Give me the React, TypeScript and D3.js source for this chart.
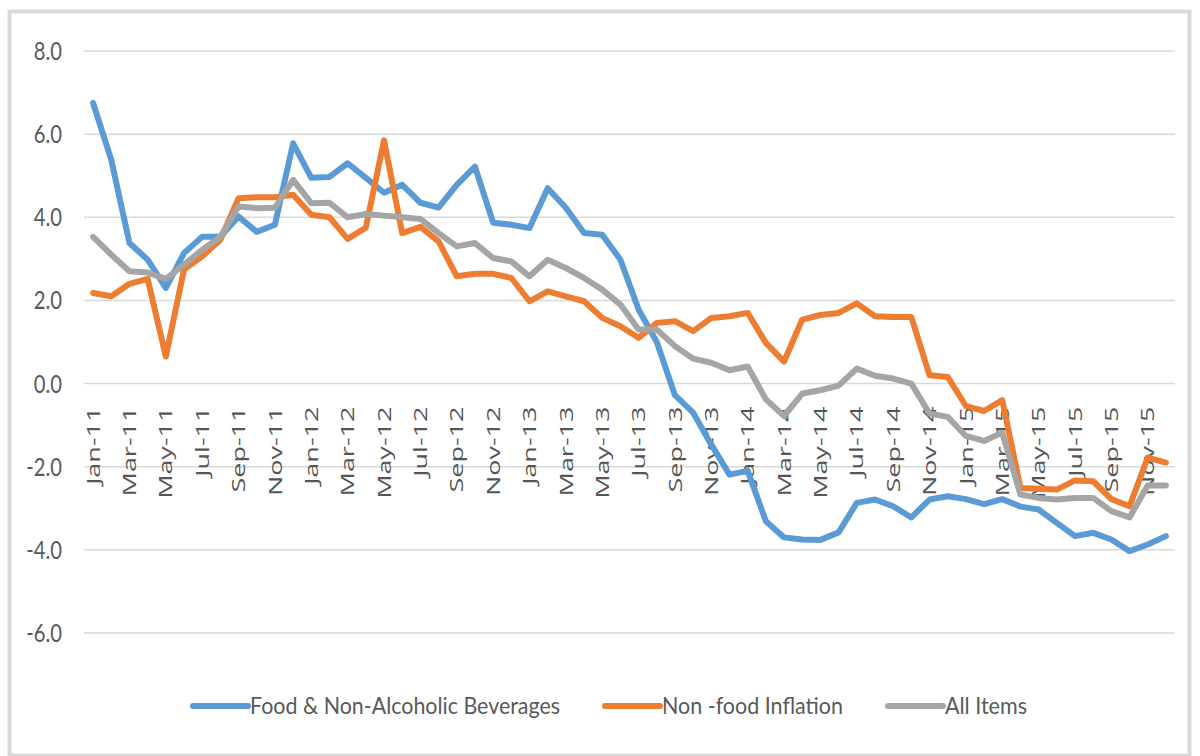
import React from "react";
import * as d3 from "d3";

// categories
const monthNames = ["Jan", "Feb", "Mar", "Apr", "May", "Jun", "Jul", "Aug", "Sep", "Oct", "Nov", "Dec"];
const years = ["11", "12", "13", "14", "15"];
const months = years.flatMap((yr) => monthNames.map((m) => `${m}-${yr}`));

// series values
const food = [
    6.75, 5.38, 3.38, 2.98, 2.3, 3.14, 3.53, 3.53, 4.02, 3.65, 3.82, 5.78,
    4.95, 4.97, 5.3, 4.95, 4.59, 4.78, 4.35, 4.23, 4.78, 5.22, 3.87, 3.82,
    3.74, 4.7, 4.23, 3.62, 3.58, 2.98, 1.78, 1.0, -0.28, -0.7, -1.47, -2.19,
    -2.1, -3.31, -3.7, -3.75, -3.76, -3.58, -2.87, -2.79, -2.95, -3.22, -2.79, -2.71,
    -2.78, -2.9, -2.78, -2.96, -3.03, -3.35, -3.67, -3.59, -3.75, -4.03, -3.87, -3.67,
];
const nonFood = [
    2.18, 2.1, 2.4, 2.52, 0.65, 2.74, 3.06, 3.46, 4.46, 4.48, 4.48, 4.54,
    4.06, 4.0, 3.48, 3.75, 5.85, 3.62, 3.77, 3.42, 2.58, 2.64, 2.64, 2.54,
    1.98, 2.22, 2.1, 1.98, 1.58, 1.38, 1.1, 1.46, 1.5, 1.26, 1.58, 1.62,
    1.7, 0.98, 0.53, 1.54, 1.65, 1.7, 1.93, 1.62, 1.6, 1.6, 0.2, 0.16,
    -0.54, -0.66, -0.4, -2.51, -2.53, -2.55, -2.33, -2.35, -2.78, -2.95, -1.78, -1.9,
];
const allItems = [
    3.53, 3.1, 2.7, 2.67, 2.52, 2.86, 3.22, 3.53, 4.26, 4.22, 4.23, 4.9,
    4.34, 4.35, 4.0, 4.08, 4.04, 4.0, 3.96, 3.62, 3.3, 3.38, 3.02, 2.94,
    2.58, 2.98, 2.78, 2.54, 2.26, 1.9, 1.3, 1.3, 0.9, 0.6, 0.5, 0.32,
    0.41, -0.38, -0.78, -0.24, -0.16, -0.05, 0.36, 0.19, 0.12, 0.0, -0.72, -0.8,
    -1.26, -1.38, -1.18, -2.67, -2.75, -2.79, -2.75, -2.75, -3.07, -3.22, -2.45, -2.45,
];

// tick labels
const yTicks = [-6, -4, -2, 0, 2, 4, 6, 8];

const seriesNames = ["Food & Non-Alcoholic Beverages", "Non -food Inflation", "All Items"];
const seriesColors = ["#5B9BD5", "#ED7D31", "#A5A5A5"];
const seriesData = [food, nonFood, allItems];

export default function App() {
    const ref = React.useRef<SVGSVGElement>(null);

    React.useEffect(() => {
        const svg = d3.select(ref.current);
        svg.selectAll("*").remove();

        const textColor = "#595959";

        // outer frame
        svg.append("rect")
            .attr("x", 9.5)
            .attr("y", 11.5)
            .attr("width", 1180)
            .attr("height", 744)
            .attr("fill", "white")
            .attr("stroke", "#D9D9D9")
            .attr("stroke-width", 4);

        const x = d3.scalePoint<string>().domain(months).range([84, 1175]).padding(0.5);
        const y = d3.scaleLinear().domain([-6, 8]).range([633, 51]);

        // grid lines
        svg.append("g")
            .selectAll("line")
            .data(yTicks)
            .enter()
            .append("line")
            .attr("x1", 84)
            .attr("x2", 1175)
            .attr("y1", (d) => y(d))
            .attr("y2", (d) => y(d))
            .attr("stroke", "#D9D9D9")
            .attr("stroke-width", 1.5);

        // y tick labels, a bit condensed like the original
        svg.append("g")
            .selectAll("text")
            .data(yTicks)
            .enter()
            .append("text")
            .attr("transform", (d) => `translate(62,${y(d)}) scale(0.88,1.08)`)
            .attr("dy", "0.36em")
            .attr("text-anchor", "end")
            .attr("font-family", "Lato, sans-serif")
            .attr("font-size", 23)
            .attr("fill", textColor)
            .text((d) => d.toFixed(1));

        // x tick labels (every other month), hanging below the zero line
        const labelTop = y(0) + 23;
        svg.append("g")
            .selectAll("text")
            .data(months.filter((_, i) => i % 2 === 0))
            .enter()
            .append("text")
            .attr("transform", (d) => `translate(${x(d)},${labelTop}) rotate(-90) scale(1.42,1)`)
            .attr("dy", "0.35em")
            .attr("text-anchor", "end")
            .attr("font-family", "'Open Sans', sans-serif")
            .attr("font-size", 19)
            .attr("fill", "#555555")
            .text((d) => d);

        // lines
        const line = d3
            .line<number>()
            .x((d, i) => x(months[i]) as number)
            .y((d) => y(d));

        seriesData.forEach((data, k) => {
            svg.append("path")
                .datum(data)
                .attr("d", line)
                .attr("fill", "none")
                .attr("stroke", seriesColors[k])
                .attr("stroke-width", 6)
                .attr("stroke-linejoin", "round")
                .attr("stroke-linecap", "round");
        });

        // legend
        const legendX = [193, 605, 888];
        const legendW = [310, 181, 82];
        const legendY = 706;
        const legend = svg.append("g");
        seriesNames.forEach((name, k) => {
            legend.append("line")
                .attr("x1", legendX[k])
                .attr("x2", legendX[k] + 55)
                .attr("y1", legendY)
                .attr("y2", legendY)
                .attr("stroke", seriesColors[k])
                .attr("stroke-width", 6)
                .attr("stroke-linecap", "round");
            legend.append("text")
                .attr("x", legendX[k] + 57)
                .attr("y", legendY)
                .attr("dy", "0.36em")
                .attr("font-family", "Lato, sans-serif")
                .attr("font-size", 23)
                .attr("fill", textColor)
                .attr("textLength", legendW[k])
                .attr("lengthAdjust", "spacingAndGlyphs")
                .text(name);
        });
    }, []);

    return (
        <svg
            ref={ref}
            width={1200}
            height={756}
            style={{ position: "absolute", left: 0, top: 0, background: "white" }}
        />
    );
}
